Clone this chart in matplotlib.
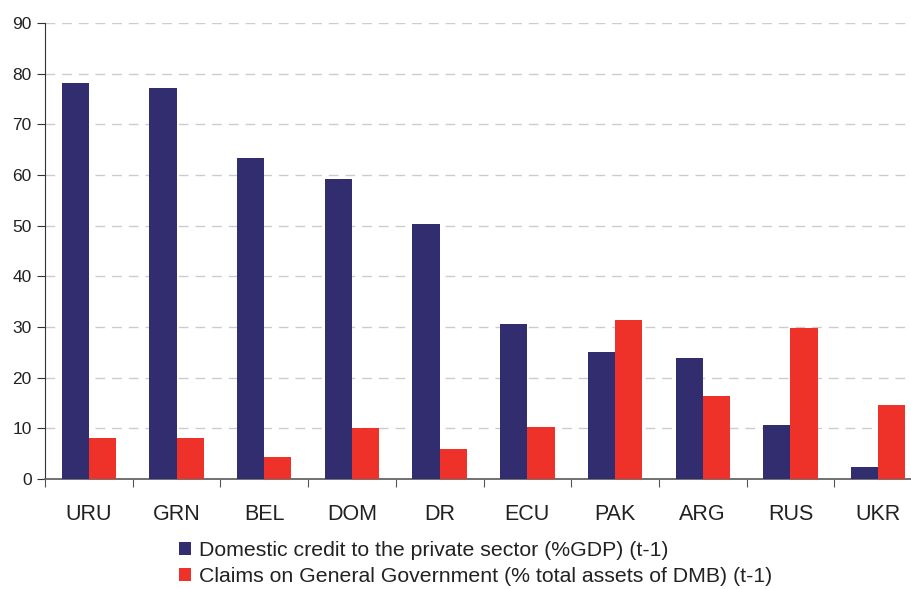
import matplotlib
matplotlib.use("Agg")
import matplotlib.pyplot as plt
import numpy as np

categories = ["URU", "GRN", "BEL", "DOM", "DR", "ECU", "PAK", "ARG", "RUS", "UKR"]
credit_private = [78.1, 77.1, 63.3, 59.2, 50.3, 30.6, 25.0, 23.9, 10.6, 2.4]
claims_gov = [8.1, 8.1, 4.3, 10.1, 5.9, 10.3, 31.4, 16.4, 29.8, 14.6]
series_labels = ["Domestic credit to the private sector (%GDP) (t-1)",
                 "Claims on General Government (% total assets of DMB) (t-1)"]
yticks = [0, 10, 20, 30, 40, 50, 60, 70, 80, 90]

plt.rcParams['font.family'] = ['Liberation Sans', 'DejaVu Sans']

fig = plt.figure(figsize=(9.12, 5.89), dpi=100)
W, H = 912, 589
left, right = 45, 922
bottom, top = 479, 23
ax = fig.add_axes([left / W, 1 - bottom / H, (right - left) / W, (bottom - top) / H])

x = np.arange(len(categories))
w = 0.31
blue = "#322D6E"
red = "#EE3129"
ax.bar(x - w / 2, credit_private, w, color=blue, label=series_labels[0], zorder=3)
ax.bar(x + w / 2, claims_gov, w, color=red, label=series_labels[1], zorder=3)

ax.set_xlim(-0.5, len(categories) - 0.5)
ax.set_ylim(0, 90)
ax.set_yticks(yticks)
ax.set_xticks(np.arange(len(categories) + 1) - 0.5, minor=False)
ax.set_xticklabels([])
ax.set_xticks(x, minor=True)
ax.set_xticklabels(categories, minor=True, fontsize=15.5, color="#222222")
ax.tick_params(axis='x', which='minor', length=0, pad=18)
ax.tick_params(axis='x', which='major', length=6, direction='out', color="#555555")
ax.tick_params(axis='y', length=6, direction='out', labelsize=12.5, colors="#222222", color="#333333")

ax.yaxis.grid(True, linestyle=(0, (7, 5)), color="#cccccc", linewidth=1, zorder=0)
ax.set_axisbelow(True)
for s in ["top", "right"]:
    ax.spines[s].set_visible(False)
ax.spines["left"].set_color("#333333")
ax.spines["bottom"].set_color("#666666")
ax.spines["bottom"].set_linewidth(1.3)

handles, labels = ax.get_legend_handles_labels()
leg = fig.legend(handles, labels, loc="upper left", bbox_to_anchor=(179 / W, 1 - 541 / H),
                 frameon=False, fontsize=15.3, handlelength=0.55, handleheight=0.6,
                 handletextpad=0.38, labelspacing=0.34, borderpad=0, borderaxespad=0,
                 labelcolor="#222222")

fig.savefig("out.png", dpi=100)
